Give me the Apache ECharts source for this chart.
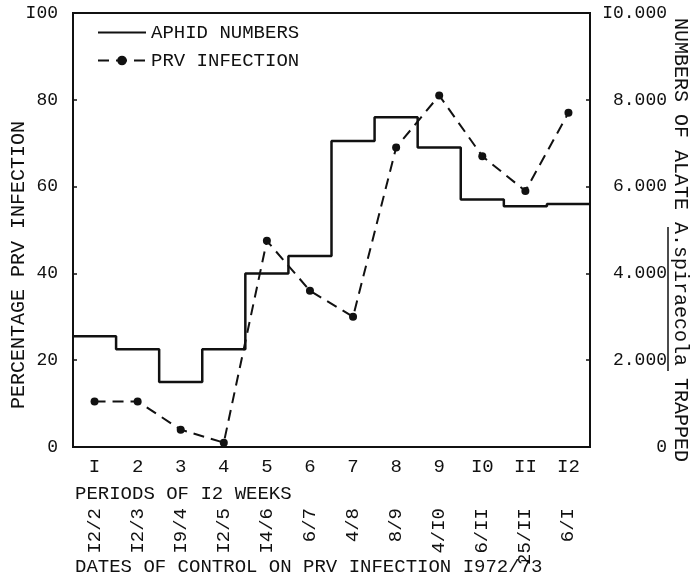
<!DOCTYPE html>
<html>
<head>
<meta charset="utf-8">
<script src="https://cdn.jsdelivr.net/npm/echarts@6/dist/echarts.min.js"></script>
<style>
  html, body { margin: 0; padding: 0; background: #fff; }
  #chart { width: 697px; height: 583px; }
</style>
</head>
<body>
<div id="chart"></div>
<script>
// periods of 12 weeks (typewriter style numerals)
const periods = ['I', '2', '3', '4', '5', '6', '7', '8', '9', 'I0', 'II', 'I2'];
const controlDates = ['I2/2', 'I2/3', 'I9/4', 'I2/5', 'I4/6', '6/7', '4/8', '8/9', '4/I0', '6/II', '25/II', '6/I'];
// % PRV infection at each control date
const prvInfection = [10.5, 10.5, 4, 1, 47.5, 36, 30, 69, 81, 67, 59, 77];
// alate A.spiraecola trapped per period
const aphidNumbers = [2550, 2250, 1500, 2250, 4000, 4400, 7050, 7600, 6900, 5700, 5550, 5600];
const leftTicks = ['0', '20', '40', '60', '80', 'I00'];
const rightTicks = ['0', '2.000', '4.000', '6.000', '8.000', 'I0.000'];

const FONT = '"Liberation Mono", "DejaVu Sans Mono", monospace';
const INK = '#111';

// step line: each period spans [i, i+1] on a hidden 0..12 axis
const aphidSteps = aphidNumbers.map((v, i) => [i, v]);
aphidSteps.push([aphidNumbers.length, aphidNumbers[aphidNumbers.length - 1]]);

const chart = echarts.init(document.getElementById('chart'));
chart.setOption({
  animation: false,
  backgroundColor: '#fff',
  textStyle: { fontFamily: FONT, color: INK },
  grid: {
    left: 73, right: 107, top: 13, bottom: 136, outerBoundsMode: 'none',
    show: true, borderColor: INK, borderWidth: 2
  },
  legend: {
    orient: 'vertical', left: 92, top: 18, itemWidth: 48, itemHeight: 12, itemGap: 9,
    textStyle: { fontFamily: FONT, fontSize: 19, color: INK },
    data: [
      { name: 'APHID NUMBERS', itemStyle: { opacity: 0 } },
      { name: 'PRV INFECTION' }
    ]
  },
  xAxis: [
    {
      type: 'category', data: periods, boundaryGap: true,
      axisLine: { lineStyle: { color: INK, width: 2 } },
      axisTick: { inside: true, length: 5, lineStyle: { color: INK, width: 1.5 } },
      axisLabel: { fontFamily: FONT, fontSize: 19, color: INK, margin: 10 }
    },
    {
      type: 'category', data: controlDates, position: 'bottom', offset: 57,
      axisLine: { show: false }, axisTick: { show: false },
      axisLabel: { fontFamily: FONT, fontSize: 19, color: INK, rotate: 90, margin: 4, interval: 0 }
    },
    { type: 'value', min: 0, max: 12, show: false }
  ],
  yAxis: [
    {
      type: 'value', min: 0, max: 100, interval: 20,
      name: 'PERCENTAGE PRV INFECTION', nameLocation: 'middle', nameGap: 44, nameRotate: 90,
      nameMoveOverlap: false,
      nameTextStyle: { fontFamily: FONT, fontSize: 20, color: INK, padding: [0, 70, 0, 0] },
      splitLine: { show: false },
      axisLine: { show: true, lineStyle: { color: INK, width: 2 } },
      axisTick: { show: true, inside: true, length: 4, lineStyle: { color: INK, width: 1.5 } },
      axisLabel: { fontFamily: FONT, fontSize: 18, color: INK, margin: 15, formatter: v => leftTicks[v / 20] }
    },
    {
      type: 'value', min: 0, max: 10000, interval: 2000, position: 'right',
      name: 'NUMBERS OF ALATE A.spiraecola TRAPPED', nameLocation: 'middle', nameGap: 80, nameRotate: -90,
      nameMoveOverlap: false,
      nameTextStyle: { fontFamily: FONT, fontSize: 20, color: INK, padding: [0, 0, 0, 20] },
      splitLine: { show: false },
      axisLine: { show: true, lineStyle: { color: INK, width: 2 } },
      axisTick: { show: true, inside: true, length: 4, lineStyle: { color: INK, width: 1.5 } },
      axisLabel: { fontFamily: FONT, fontSize: 18, color: INK, margin: 77, align: 'right', formatter: v => rightTicks[v / 2000] }
    }
  ],
  graphic: [
    { type: 'text', left: 75, top: 484, style: { text: 'PERIODS OF I2 WEEKS', font: '19px ' + FONT, fill: INK } },
    { type: 'text', left: 75, top: 557, style: { text: 'DATES OF CONTROL ON PRV INFECTION I972/73', font: '19px ' + FONT, fill: INK } },
    // underline of the species name in the right axis title
    { type: 'line', shape: { x1: 668, y1: 227, x2: 668, y2: 371 }, style: { stroke: INK, lineWidth: 1.5 } }
  ],
  series: [
    {
      name: 'APHID NUMBERS', type: 'line', step: 'end', xAxisIndex: 2, yAxisIndex: 1,
      data: aphidSteps, symbol: 'none',
      lineStyle: { color: INK, width: 2.5 }, itemStyle: { color: INK }
    },
    {
      name: 'PRV INFECTION', type: 'line', xAxisIndex: 0, yAxisIndex: 0,
      data: prvInfection, symbol: 'circle', symbolSize: 8,
      lineStyle: { color: INK, width: 2, type: [11, 7] }, itemStyle: { color: INK }
    }
  ]
});
</script>
</body>
</html>
